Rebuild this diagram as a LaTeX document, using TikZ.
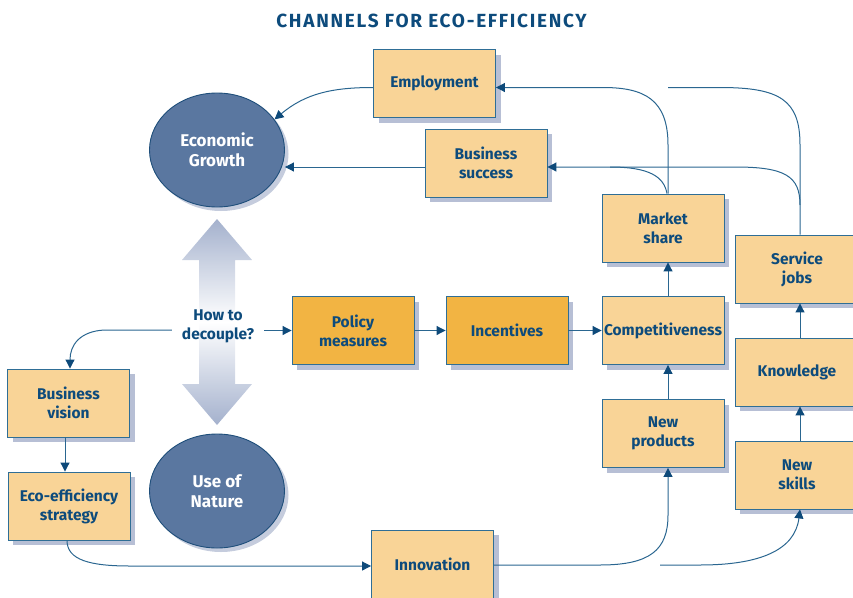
\documentclass[tikz,border=0pt]{standalone}
\usepackage{fontspec}
\setmainfont{Fira Sans}
\usetikzlibrary{arrows.meta,shadows,shapes.geometric}
\definecolor{boxfill}{HTML}{F9D497}
\definecolor{darkfill}{HTML}{F2B443}
\definecolor{bordercol}{HTML}{2F6E96}
\definecolor{textblue}{HTML}{0D4B7C}
\definecolor{shadowcol}{HTML}{B7BFD5}
\definecolor{ellfill}{HTML}{5A77A0}
\definecolor{ellborder}{HTML}{1E4E7A}
\definecolor{linecol}{HTML}{2A6690}
\definecolor{tipcol}{HTML}{0E4A7A}
\definecolor{arrowcol}{HTML}{A4B1CD}
\newcommand{\boxfont}{\fontsize{15.5}{19}\selectfont\bfseries}
\newcommand{\ellfont}{\fontsize{17}{20}\selectfont\bfseries}
\begin{document}
\begin{tikzpicture}[x=1pt,y=-1pt,
  box/.style={draw=bordercol, line width=0.9pt, fill=boxfill, minimum width=122pt, minimum height=68pt,
    align=center, text=textblue, font=\boxfont, inner sep=2pt,
    drop shadow={shadow xshift=5pt, shadow yshift=-5pt, fill=shadowcol, opacity=1}},
  darkbox/.style={box, fill=darkfill},
  circ/.style={ellipse, draw=ellborder, line width=0.9pt, fill=ellfill, minimum width=135pt, minimum height=114pt,
    inner sep=0pt, text=white, font=\ellfont, align=center,
    drop shadow={shadow xshift=4pt, shadow yshift=-4pt, fill=shadowcol!80, opacity=1}},
  conn/.style={draw=linecol, line width=1pt, -{Triangle[length=9pt,width=9pt,color=tipcol]}},
  plain/.style={draw=linecol, line width=1pt}
]
\useasboundingbox (0,0) rectangle (853,597);
\clip (0,0) rectangle (853,597);

\node[font=\fontsize{19}{22}\selectfont\bfseries\addfontfeatures{LetterSpace=9}, text=textblue] (title) at (431.5,21) {CHANNELS FOR ECO-EFFICIENCY};

% double arrow
\shade[top color=arrowcol, bottom color=arrowcol, middle color=white]
  (217,219) -- (252,260) -- (235,260) -- (235,384) -- (252,384) -- (217,425)
  -- (182,384) -- (199,384) -- (199,260) -- (182,260) -- cycle;

\node[circ] (eg) at (217,150) {Economic\\Growth};
\node[circ] (un) at (217,491) {Use of\\Nature};

\node[box] (emp) at (434.5,83.5) {Employment};
\node[box] (bs) at (486,163) {Business\\success};
\node[box] (ms) at (663,228) {Market\\share};
\node[box, minimum width=124pt] (sj) at (797,269) {Service\\jobs};
\node[box] (comp) at (663,330.5) {Competitiveness};
\node[darkbox] (pm) at (353,330.5) {Policy\\measures};
\node[darkbox] (inc) at (507,330.5) {Incentives};
\node[box] (np) at (663,433.5) {New\\products};
\node[box, minimum width=124pt] (kn) at (797,372) {Knowledge};
\node[box, minimum width=124pt] (nsk) at (797,475) {New\\skills};
\node[box] (bv) at (68.5,403) {Business\\vision};
\node[box] (ees) at (69,506) {Eco-efficiency\\strategy};
\node[box] (inn) at (432.5,564) {Innovation};

\node[font=\boxfont, text=textblue, align=center, inner xsep=10pt] (htd) at (218,326) {How to\\decouple?};

% connectors
\draw[conn] ([yshift=-4pt]emp.west) to[out=180,in=40] (eg.28);
\draw[conn] ([yshift=-4pt]bs.west) -- ([yshift=-4pt]bs.west -| eg.east);

\draw[plain] ([xshift=3pt]sj.north) -- (800,145) .. controls (800,100) and (780,87.5) .. (720,87.5) -- (668,87.5);
\draw[conn] ([xshift=5pt]ms.north) -- (668,145) .. controls (668,100) and (645,87.5) .. (603,87.5) -- ([yshift=-4pt]emp.east);
\draw[plain] (800,205) .. controls (800,176) and (785,167) .. (735,167) -- (610,167);
\draw[conn] ([xshift=4pt]ms.north) .. controls (664,177) and (650,167) .. (610,167) -- ([yshift=-4pt]bs.east);

\draw[conn] ([xshift=5pt]comp.north) -- ([xshift=5pt]ms.south);
\draw[conn] ([xshift=5pt]np.north) -- ([xshift=5pt]comp.south);
\draw[conn] ([xshift=3pt]kn.north) -- ([xshift=3pt]sj.south);
\draw[conn] ([xshift=3pt]nsk.north) -- ([xshift=3pt]kn.south);

\draw[conn] (htd.east |- pm.west) -- (pm.west);
\draw[conn] (pm.east) -- (inc.west);
\draw[conn] (inc.east) -- (comp.west);

\draw[conn] ([yshift=-4pt]htd.west) -- (105,330) .. controls (80,331) and (70,345) .. ([xshift=1.5pt]bv.north);
\draw[conn] ([xshift=-3.5pt]bv.south) -- ([xshift=-3.5pt]bv.south |- ees.north);
\draw[conn] ([xshift=-2pt]ees.south) .. controls (67,560) and (90,566) .. (130,566) -- ([yshift=-2pt]inn.west);

\draw[conn] ([yshift=-1pt]inn.east) -- (600,565) .. controls (650,565) and (668,550) .. (668,515) -- ([xshift=5pt]np.south);
\draw[conn] (660,565) -- (700,565) .. controls (760,565) and (795,550) .. ([xshift=3pt]nsk.south);
\end{tikzpicture}
\end{document}
